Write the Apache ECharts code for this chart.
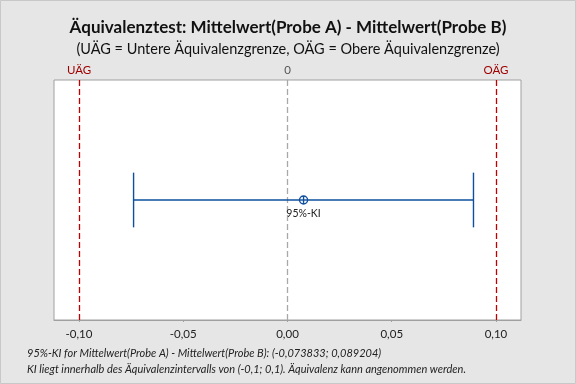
<!DOCTYPE html>
<html><head><meta charset="utf-8">
<script src="https://cdn.jsdelivr.net/npm/echarts@6/dist/echarts.min.js"></script>
<style>html,body{margin:0;padding:0;background:#e6e6e6}#c{width:576px;height:384px}</style>
</head><body><div id="c"></div>
<script>
const ciLower = [-0.073833];
const ciUpper = [0.089204];
const estimate = [0.0077];
const limits = [-0.1, 0, 0.1];
const limitNames = ['UÄG', '0', 'OÄG'];
const tickValues = [-0.1, -0.05, 0, 0.05, 0.1];
const titleText = 'Äquivalenztest: Mittelwert(Probe A) - Mittelwert(Probe B)';
const subText = '(UÄG = Untere Äquivalenzgrenze, OÄG = Obere Äquivalenzgrenze)';
const notes = ['95%-KI for Mittelwert(Probe A) - Mittelwert(Probe B): (-0,073833; 0,089204)',
  'KI liegt innerhalb des Äquivalenzintervalls von (-0,1; 0,1). Äquivalenz kann angenommen werden.'];
const F = 'Lato, "Open Sans", sans-serif';
const blue = '#0d4f9e';
const chart = echarts.init(document.getElementById('c'), null, {renderer:'canvas'});
chart.setOption({
  backgroundColor: '#e6e6e6',
  animation: false,
  title: [{text: titleText, left: 'center', top: 14, textStyle:{fontFamily:F, fontSize:17, fontWeight:'bold', color:'#111'}},
          {text: subText, left: 'center', top: 37, textStyle:{fontFamily:F, fontSize:14.5, fontWeight:'normal', color:'#111'}}],
  grid: {left: 54, right: 55, top: 80, bottom: 64, show: true, backgroundColor: '#fff', borderColor: '#a0a0a0', borderWidth: 1},
  xAxis: {type:'value', min:-0.112, max:0.112,
    axisLine:{show:true, lineStyle:{color:'#a0a0a0'}},
    axisTick:{show:true, length:2, customValues: tickValues, lineStyle:{color:'#a0a0a0'}},
    axisLabel:{customValues: tickValues, margin:8, fontFamily:F, fontSize:11.5, color:'#222',
      formatter: v => v.toFixed(2).replace('.', ',')},
    splitLine:{show:false}},
  yAxis: {type:'value', min:0, max:1, show:false},
  graphic: [
    {type:'rect', shape:{x:0.5, y:0.5, width:575, height:383}, style:{fill:'none', stroke:'#c8c8c8'}},
    {type:'text', left:27, top:348, style:{text:notes[0], font:'italic 11px '+F, fill:'#222'}},
    {type:'text', left:27, top:364, style:{text:notes[1], font:'italic 11px '+F, fill:'#222'}}
  ],
  series: [
    {type:'custom', data:[[ciLower[0], ciUpper[0], 0.5, estimate[0]]], z:5,
      renderItem: function(params, api){
        const y = api.value(2);
        const a = api.coord([api.value(0), y]);
        const b = api.coord([api.value(1), y]);
        const m = api.coord([api.value(3), y]);
        const h = api.size([0, 0.114])[1];
        const st = {stroke: blue, lineWidth: 1.4};
        return {type:'group', children:[
          {type:'line', shape:{x1:a[0], y1:a[1], x2:b[0], y2:b[1]}, style:st},
          {type:'line', shape:{x1:a[0], y1:a[1]-h, x2:a[0], y2:a[1]+h}, style:st},
          {type:'line', shape:{x1:b[0], y1:b[1]-h, x2:b[0], y2:b[1]+h}, style:st},
          {type:'circle', shape:{cx:m[0], cy:m[1], r:4}, style:{fill:'#fff', stroke:blue, lineWidth:1.4}},
          {type:'line', shape:{x1:m[0]-4, y1:m[1], x2:m[0]+4, y2:m[1]}, style:st},
          {type:'line', shape:{x1:m[0], y1:m[1]-4, x2:m[0], y2:m[1]+4}, style:st},
          {type:'text', x:m[0], y:m[1]+8, style:{text:'95%-KI', font:'10.5px '+F, fill:'#222', align:'center', verticalAlign:'top'}}
        ]};
      },
      markLine: {silent:true, symbol:['none','none'],
        data: limits.map((v,i) => ({xAxis:v, name:limitNames[i],
          lineStyle:{color: i===1 ? '#a8a8a8' : '#c00000', type: [6,3], width: 1.3},
          label:{show:true, position:'end', formatter: limitNames[i], distance:4,
            color: i===1 ? '#555' : '#a00000', fontFamily:F, fontSize:11.5}}))}
    }
  ]
});
</script></body></html>
